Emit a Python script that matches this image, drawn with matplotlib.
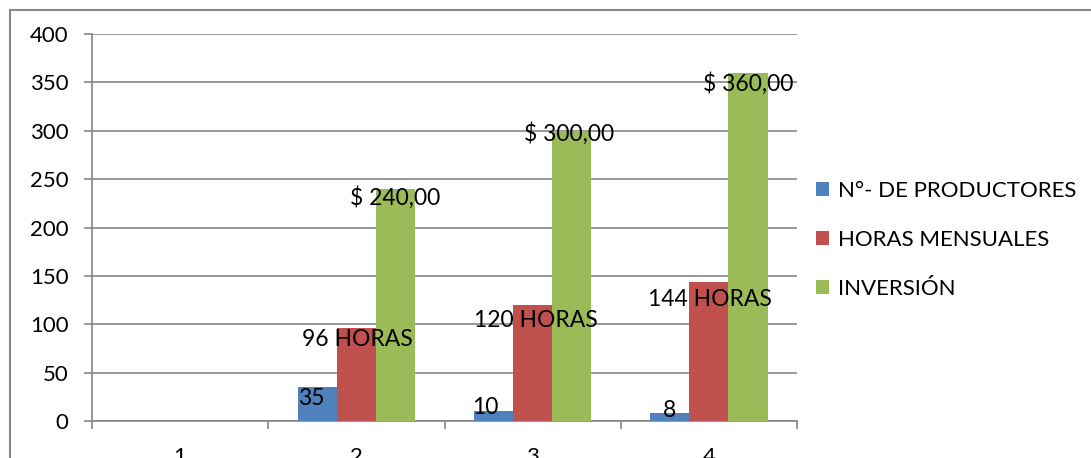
import numpy as np
import matplotlib.pyplot as plt
from matplotlib.patches import Rectangle

plt.rcParams['font.family'] = ['Lato', 'DejaVu Sans']

# data
categories = ['1', '2', '3', '4']
productores = [np.nan, 35, 10, 8]
horas = [np.nan, 96, 120, 144]
inversion = [np.nan, 240, 300, 360]
lab_prod = ['', '35', '10', '8']
lab_horas = ['', '96 HORAS', '120 HORAS', '144 HORAS']
lab_inv = ['', '$ 240,00', '$ 300,00', '$ 360,00']
names = ['N°- DE PRODUCTORES', 'HORAS MENSUALES', 'INVERSIÓN']

colors = ['#4F81BD', '#C0504D', '#9BBB59']
# label offsets (points) relative to top centre of each bar
off_prod = [(0, 0), (-4, -8), (-6, 3), (0, 2)]
off_horas = [(0, 0), (1, -8), (2, -11), (1, -13)]
off_inv = [(0, 0), (0, -6), (-2, -2), (0, -8)]

fig = plt.figure(figsize=[10.91, 4.58], dpi=100)
ax = fig.add_axes([92/1091, 37/458, 705/1091, 387/458])

x = np.arange(len(categories))
w = 0.222
series = [productores, horas, inversion]
labels = [lab_prod, lab_horas, lab_inv]
offsets = [off_prod, off_horas, off_inv]
for i, (vals, labs, offs) in enumerate(zip(series, labels, offsets)):
    xs = x + (i - 1) * w
    ax.bar(xs, vals, width=w, color=colors[i], label=names[i], zorder=3)
    for xx, v, t, o in zip(xs, vals, labs, offs):
        if t:
            ax.annotate(t, (xx, v), xytext=o, textcoords='offset points',
                        ha='center', va='center', fontsize=16.5, color='k', zorder=5)

ax.set_xlim(-0.5, 3.5)
ax.set_ylim(0, 400)
ax.set_yticks(np.arange(0, 401, 50))
ax.set_xticks(x)
ax.set_xticklabels(categories)
ax.set_xticks(np.arange(-0.5, 4, 1), minor=True)
ax.grid(axis='y', color='#868686', linewidth=1.2, zorder=0)
for s in ['top', 'right']:
    ax.spines[s].set_visible(False)
for s in ['left', 'bottom']:
    ax.spines[s].set_color('#868686')
    ax.spines[s].set_linewidth(1.2)
ax.tick_params(axis='y', length=6, width=1.2, color='#868686', pad=11, labelsize=16)
ax.tick_params(axis='x', which='major', length=0, pad=19, labelsize=16)
ax.tick_params(axis='x', which='minor', length=6, width=1.2, color='#868686')

ax.legend(loc='upper left', bbox_to_anchor=(807/1091, 1 - 172/458),
          bbox_transform=fig.transFigure, frameon=False, fontsize=16,
          handlelength=0.6, handleheight=0.6, handletextpad=0.4,
          labelspacing=1.3, borderaxespad=0)

# outer chart border (cropped)
fig.patches.append(Rectangle((10/1091, -0.5), 2, 1.5 - 10/458, transform=fig.transFigure,
                             fill=False, edgecolor='#888888', linewidth=1.5))

plt.savefig('out.png', dpi=100, facecolor='white')
